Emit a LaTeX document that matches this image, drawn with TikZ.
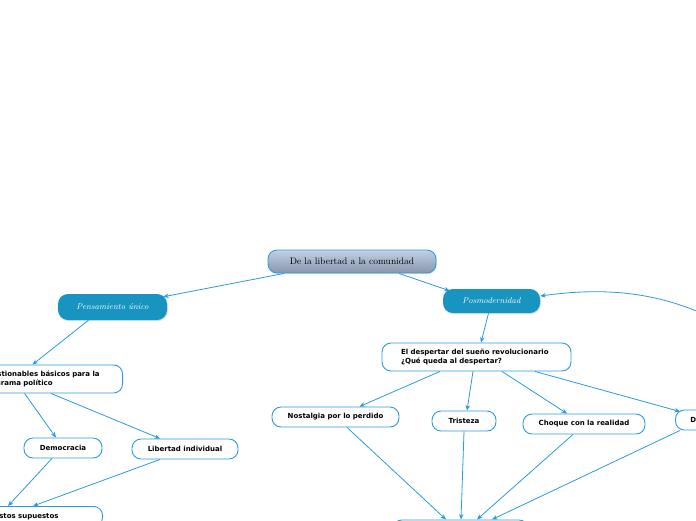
\documentclass[tikz,border=0pt]{standalone}
\usepackage{fontspec}
\newfontfamily\bodyfont{DejaVu Sans}
\usetikzlibrary{arrows.meta,calc,shadows}
\definecolor{edgeblue}{HTML}{2A9AE0}
\definecolor{nodeblue}{HTML}{2D9BE2}
\definecolor{topicteal}{HTML}{1794BF}
\definecolor{titletop}{HTML}{C2D0E4}
\definecolor{titlebot}{HTML}{8896AC}
\tikzset{
  box/.style={draw=nodeblue, line width=0.9pt, rounded corners=9pt, fill=white,
    font=\bodyfont\bfseries\fontsize{7}{9}\selectfont, minimum height=20pt, inner ysep=0pt, inner xsep=4pt},
  topic/.style={fill=topicteal, rounded corners=10pt, text=white,
    font=\itshape\fontsize{8.5}{10}\selectfont,
    drop shadow={opacity=0.25, shadow xshift=0.8pt, shadow yshift=-1.2pt}},
  titlebox/.style={draw=nodeblue, line width=0.9pt, rounded corners=9pt,
    top color=titletop, bottom color=titlebot, font=\fontsize{9.5}{11}\selectfont,
    drop shadow={opacity=0.2, shadow xshift=0.8pt, shadow yshift=-1.2pt}},
  conn/.style={draw=edgeblue, line width=0.8pt, -{Stealth[length=5.5pt,width=4.5pt]}},
}
\begin{document}
\begin{tikzpicture}[x=1pt,y=-1pt]
\useasboundingbox (0,0) rectangle (696,520);
\node[titlebox, minimum width=168pt, minimum height=23pt] (root) at (352,261.5) {De la libertad a la comunidad};
\node[topic, minimum width=109pt, minimum height=26pt] (pens) at (112.5,307) {Pensamiento único};
\node[topic, minimum width=97pt, minimum height=24pt] (posm) at (491.5,301) {Posmodernidad};
\node[box, anchor=east, text width=130pt, align=left, inner xsep=10pt, minimum height=28pt] (cuest) at (123,379) {Cuestionables básicos para la\\programa político};
\node[box, minimum width=78pt] (demo) at (63,448) {Democracia};
\node[box, minimum width=106pt] (lib) at (185,449) {Libertad individual};
\node[box, anchor=north east, text width=98pt, align=left, inner xsep=10pt, inner ysep=6pt] (sup) at (103,506) {Estos supuestos};
\node[box, minimum height=28pt, text width=151pt, align=left, inner xsep=19pt] (desp) at (476.5,357) {El despertar del sueño revolucionario\\¿Qué queda al despertar?};
\node[box, minimum width=127pt] (nost) at (335.5,417) {Nostalgia por lo perdido};
\node[box, minimum width=64pt] (tris) at (464,421) {Tristeza};
\node[box, minimum width=122pt] (choq) at (584,424) {Choque con la realidad};
\node[box, anchor=west, inner xsep=15pt] (desil) at (675,420) {Desencanto};
\node[box, anchor=north, minimum width=135pt, minimum height=30pt] (fin) at (460.5,519.5) {};
\coordinate (offR) at (720,322);

\draw[conn] ($(root.south)+(-68,0)$) -- ($(pens.north east)+(-4,3)$);
\draw[conn] ($(root.south)+(47,0)$) -- ($(posm.north west)+(7,2)$);
\draw[conn] ($(pens.south)+(-24,0)$) -- ($(cuest.north)+(-15,0)$);
\draw[conn] (offR) .. controls (650,285) and (585,290) .. ($(posm.east)+(0,-5)$);
\draw[conn] ($(posm.south)+(-3,0)$) -- ($(desp.north)+(4.5,0)$);
\draw[conn] ($(cuest.south)+(-23,0)$) -- ($(demo.north)+(-7,0)$);
\draw[conn] ($(cuest.south)+(3.5,0)$) -- ($(lib.north)+(-25,0)$);
\draw[conn] ($(demo.south)+(-11,0)$) -- ($(sup.north east)+(-95,0)$);
\draw[conn] ($(lib.south)+(-25,0)$) -- ($(sup.north east)+(-70,0)$);
\draw[conn] ($(desp.south)+(-36.5,0)$) -- ($(nost.north)+(24,0)$);
\draw[conn] ($(desp.south)+(-3.5,0)$) -- ($(tris.north)+(3,0)$);
\draw[conn] ($(desp.south)+(25.5,0)$) -- ($(choq.north)+(-17,0)$);
\draw[conn] ($(desp.south)+(58.5,0)$) -- ($(desil.north west)+(5,2)$);
\draw[conn] ($(nost.south)+(11.5,0)$) -- ($(fin.north)+(-14.5,0)$);
\draw[conn] (tris.south) -- ($(fin.north)+(0.5,0)$);
\draw[conn] ($(choq.south)+(-11,0)$) -- ($(fin.north)+(16.5,0)$);
\draw[conn] ($(desil.south west)+(5,0)$) -- ($(fin.north)+(31.5,0)$);
\end{tikzpicture}
\end{document}
